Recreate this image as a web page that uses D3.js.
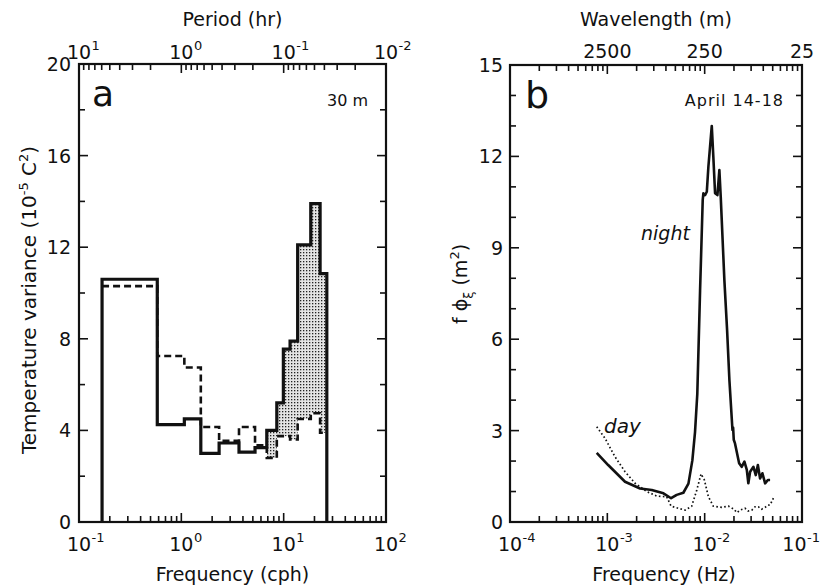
<!DOCTYPE html>
<html>
<head>
<meta charset="utf-8">
<script src="https://cdn.jsdelivr.net/npm/d3@7"></script>
<style>
body { margin: 0; background: #fff; }
svg text { font-family: "DejaVu Sans", sans-serif; fill: #111; }
</style>
</head>
<body>
<svg id="chart" width="822" height="588"></svg>
<script>
// ---- panel a : temperature variance, 30 m (frequency in cph)
var binEdges  = [0.168, 0.582, 1.07, 1.55, 2.34, 3.66, 5.25, 6.84, 8.57, 9.93, 11.55, 13.7, 18.4, 22.7, 26.4];
var solidVar  = [10.6, 4.25, 4.5, 3.0, 3.45, 3.05, 3.25, 4.0, 5.2, 7.55, 7.9, 12.1, 13.9, 10.85];
var dashedVar = [10.3, 7.25, 6.75, 4.15, 3.55, 4.15, 3.35, 2.8, 3.75, 3.75, 3.6, 4.5, 4.75, 3.9];
var shadeFrom = 7;   // first shaded bin
var aYLabels = [0, 4, 8, 12, 16, 20];
var aFreqExp = ["-1", "0", "1", "2"];
var aPeriodExp = ["1", "0", "-1", "-2"];

// ---- panel b : f*phi spectra (frequency in Hz)
var nightFreq = [7.78e-4, 1.02e-3, 1.52e-3, 2.17e-3, 2.86e-3, 3.77e-3, 4.52e-3, 5.16e-3, 6.04e-3, 6.81e-3,
                 7.48e-3, 7.96e-3, 8.4e-3, 8.97e-3, 9.55e-3, 9.70e-3, 1.009e-2, 1.052e-2, 1.092e-2, 1.183e-2,
                 1.227e-2, 1.279e-2, 1.352e-2, 1.416e-2, 1.462e-2, 1.594e-2, 1.70e-2, 1.795e-2, 1.93e-2, 1.96e-2,
                 1.99e-2, 2.05e-2, 2.26e-2, 2.40e-2, 2.56e-2, 2.71e-2, 2.81e-2, 2.93e-2, 3.17e-2, 3.35e-2,
                 3.52e-2, 3.71e-2, 3.92e-2, 4.18e-2, 4.46e-2, 4.70e-2];
var nightPhi  = [2.27, 1.87, 1.32, 1.1, 1.05, 0.94, 0.78, 0.89, 0.96, 1.26,
                 2.03, 2.95, 4.2, 7.6, 10.57, 10.79, 10.73, 10.84, 11.66, 13.0,
                 12.0, 10.79, 10.73, 11.55, 10.68, 7.94, 6.3, 4.66, 3.02, 3.1,
                 2.7, 2.58, 1.93, 1.81, 1.98, 1.71, 1.27, 1.65, 1.81, 1.54,
                 1.87, 1.43, 1.6, 1.27, 1.38, 1.38];
var dayFreq = [7.78e-4, 9.46e-4, 1.20e-3, 1.52e-3, 1.93e-3, 2.54e-3, 3.22e-3, 4.07e-3, 4.52e-3, 5.37e-3,
               6.30e-3, 7.36e-3, 8.30e-3, 9.18e-3, 9.93e-3, 1.092e-2, 1.227e-2, 1.50e-2, 1.754e-2, 2.0e-2,
               2.14e-2, 2.35e-2, 2.60e-2, 2.80e-2, 3.05e-2, 3.30e-2, 3.56e-2, 3.85e-2, 4.18e-2, 4.45e-2,
               4.70e-2, 5.08e-2];
var dayPhi  = [3.13, 2.75, 2.14, 1.65, 1.27, 1.0, 0.85, 0.83, 0.52, 0.45,
               0.39, 0.52, 1.05, 1.58, 1.38, 0.83, 0.52, 0.48, 0.52, 0.42,
               0.31, 0.40, 0.45, 0.36, 0.39, 0.50, 0.50, 0.42, 0.48, 0.55,
               0.56, 0.78];
var bYLabels = [0, 3, 6, 9, 12, 15];
var bFreqExp = ["-4", "-3", "-2", "-1"];
var wavelengthLabels = [2500, 250, 25];

var svg = d3.select("#chart");
var ink = "#111";

var pa = {l: 79, r: 386, t: 64, b: 522};
var pb = {l: 510, r: 802, t: 65, b: 522};

var xa = d3.scaleLog().domain([0.1, 100]).range([pa.l, pa.r]);
var pera = d3.scaleLog().domain([10, 0.01]).range([pa.l, pa.r]);
var ya = d3.scaleLinear().domain([0, 20]).range([pa.b, pa.t]);

var xb = d3.scaleLog().domain([1e-4, 1e-1]).range([pb.l, pb.r]);
var wlb = d3.scaleLog().domain([25000, 25]).range([pb.l, pb.r]);
var yb = d3.scaleLinear().domain([0, 15]).range([pb.b, pb.t]);

function isDecade(v) {
    var l = Math.log10(v);
    return Math.abs(l - Math.round(l)) < 1e-6;
}

function tick(x1, y1, x2, y2) {
    svg.append("line").attr("x1", x1).attr("y1", y1).attr("x2", x2).attr("y2", y2)
        .attr("stroke", ink).attr("stroke-width", 1.6);
}

function logTicks(p, scale, edge) {
    scale.ticks().forEach(function(v) {
        var x = scale(v);
        if (x < p.l + 1 || x > p.r - 1) return;
        var len = isDecade(v) ? 9 : 6;
        if (edge == "bottom") tick(x, p.b, x, p.b - len);
        else tick(x, p.t, x, p.t + len);
    });
}

function yTicks(p, scale, n, every) {
    scale.ticks(n).forEach(function(v) {
        var y = scale(v);
        if (y > p.b - 1 || y < p.t + 1) return;
        var len = (v % every == 0) ? 9 : 6;
        tick(p.l, y, p.l + len, y);
        tick(p.r, y, p.r - len, y);
    });
}

// "10" centred on the tick, exponent hanging to the right
function powLabel(x, y, exp) {
    var t = svg.append("text").attr("x", x).attr("y", y).attr("text-anchor", "middle")
        .style("font-size", "19px").text("10");
    var w = t.node().getComputedTextLength();
    var s = svg.append("text").attr("x", x + w / 2 + 0.5).attr("y", y - 9)
        .style("font-size", "13px").text(exp);
    var over = x + w / 2 + 0.5 + s.node().getComputedTextLength() - 820;
    if (over > 0) {
        t.attr("x", x - over);
        s.attr("x", x + w / 2 + 0.5 - over);
    }
}

function frame(p) {
    svg.append("rect").attr("x", p.l).attr("y", p.t)
        .attr("width", p.r - p.l).attr("height", p.b - p.t)
        .attr("fill", "none").attr("stroke", ink).attr("stroke-width", 2.2);
}

// stipple for the shaded region
var pat = svg.append("defs").append("pattern").attr("id", "stip")
    .attr("patternUnits", "userSpaceOnUse").attr("width", 3).attr("height", 3);
pat.append("rect").attr("width", 3).attr("height", 3).attr("fill", "#e4e4e4");
pat.append("rect").attr("width", 1.3).attr("height", 1.3).attr("fill", "#222");

// ================= panel a =================
var shadePts = [];
for (var i = shadeFrom; i < solidVar.length; i++) {
    shadePts.push({x: binEdges[i], lo: dashedVar[i], hi: solidVar[i]});
}
var last = solidVar.length - 1;
shadePts.push({x: binEdges[last + 1], lo: dashedVar[last], hi: solidVar[last]});

svg.append("path").datum(shadePts)
    .attr("d", d3.area().curve(d3.curveStepAfter)
        .x(function(d) { return xa(d.x); })
        .y0(function(d) { return ya(d.lo); })
        .y1(function(d) { return ya(d.hi); }))
    .attr("fill", "url(#stip)");

// dashed histogram
var dashPts = dashedVar.map(function(v, i) { return [binEdges[i], v]; });
dashPts.push([binEdges[last + 1], dashedVar[last]]);
svg.append("path").datum(dashPts)
    .attr("d", d3.line().curve(d3.curveStepAfter)
        .x(function(d) { return xa(d[0]); })
        .y(function(d) { return ya(d[1]); }))
    .attr("fill", "none").attr("stroke", ink).attr("stroke-width", 2.6)
    .attr("stroke-dasharray", "7,4");

// solid histogram, closed to zero at both ends
var solidPts = [[binEdges[0], 0]];
solidVar.forEach(function(v, i) {
    solidPts.push([binEdges[i], v]);
    solidPts.push([binEdges[i + 1], v]);
});
solidPts.push([binEdges[last + 1], 0]);
svg.append("path").datum(solidPts)
    .attr("d", d3.line()
        .x(function(d) { return xa(d[0]); })
        .y(function(d) { return ya(d[1]); }))
    .attr("fill", "none").attr("stroke", ink).attr("stroke-width", 3.2)
    .attr("stroke-linejoin", "miter");

frame(pa);
logTicks(pa, xa, "bottom");
logTicks(pa, pera, "top");
yTicks(pa, ya, 10, 4);

aYLabels.forEach(function(v) {
    svg.append("text").attr("x", pa.l - 8).attr("y", ya(v) + 7)
        .attr("text-anchor", "end").style("font-size", "19px").text(v);
});
aFreqExp.forEach(function(e) { powLabel(xa(Math.pow(10, +e)), 551, e); });
aPeriodExp.forEach(function(e) { powLabel(pera(Math.pow(10, +e)), 59, e); });

svg.append("text").attr("x", (pa.l + pa.r) / 2).attr("y", 581).attr("text-anchor", "middle")
    .style("font-size", "19px").text("Frequency (cph)");
svg.append("text").attr("x", (pa.l + pa.r) / 2).attr("y", 26).attr("text-anchor", "middle")
    .style("font-size", "19px").text("Period (hr)");

var ta = svg.append("text").attr("transform", "translate(36,300) rotate(-90)")
    .attr("text-anchor", "middle").style("font-size", "20px");
ta.append("tspan").text("Temperature variance (10");
ta.append("tspan").attr("dy", -8).style("font-size", "13px").text("-5");
ta.append("tspan").attr("dy", 8).text(" C");
ta.append("tspan").attr("dy", -8).style("font-size", "13px").text("2");
ta.append("tspan").attr("dy", 8).text(")");

svg.append("text").attr("x", 92).attr("y", 106).style("font-size", "36px").text("a");
svg.append("text").attr("x", 368).attr("y", 106).attr("text-anchor", "end")
    .style("font-size", "16px").text("30 m");

// ================= panel b =================
var lineB = d3.line()
    .x(function(d) { return xb(d[0]); })
    .y(function(d) { return yb(d[1]); });

svg.append("path").datum(dayFreq.map(function(f, i) { return [f, dayPhi[i]]; }))
    .attr("d", lineB).attr("fill", "none").attr("stroke", ink)
    .attr("stroke-width", 1.7).attr("stroke-dasharray", "1.6,2.4");

svg.append("path").datum(nightFreq.map(function(f, i) { return [f, nightPhi[i]]; }))
    .attr("d", lineB).attr("fill", "none").attr("stroke", ink)
    .attr("stroke-width", 2.6).attr("stroke-linejoin", "round");

frame(pb);
logTicks(pb, xb, "bottom");
logTicks(pb, xb, "top");
yTicks(pb, yb, 15, 3);

bYLabels.forEach(function(v) {
    svg.append("text").attr("x", pb.l - 7).attr("y", yb(v) + 7)
        .attr("text-anchor", "end").style("font-size", "19px").text(v);
});
bFreqExp.forEach(function(e) { powLabel(xb(Math.pow(10, +e)), 551, e); });
wavelengthLabels.forEach(function(w) {
    svg.append("text").attr("x", wlb(w)).attr("y", 58).attr("text-anchor", "middle")
        .style("font-size", "19px").text(w);
});

svg.append("text").attr("x", 664).attr("y", 581).attr("text-anchor", "middle")
    .style("font-size", "19px").text("Frequency (Hz)");
svg.append("text").attr("x", 656).attr("y", 26).attr("text-anchor", "middle")
    .style("font-size", "19px").text("Wavelength (m)");

var tb = svg.append("text").attr("transform", "translate(467,284) rotate(-90)")
    .attr("text-anchor", "middle").style("font-size", "19px");
tb.append("tspan").text("f \u03d5");
tb.append("tspan").attr("dy", 6).style("font-size", "13px").text("\u03be");
tb.append("tspan").attr("dy", -6).text(" (m");
tb.append("tspan").attr("dy", -8).style("font-size", "13px").text("2");
tb.append("tspan").attr("dy", 8).text(")");

svg.append("text").attr("x", 525).attr("y", 108).style("font-size", "38px").text("b");
svg.append("text").attr("x", 784).attr("y", 106).attr("text-anchor", "end")
    .style("font-size", "16px").style("letter-spacing", "1px").text("April 14-18");
svg.append("text").attr("x", 641).attr("y", 240).style("font-size", "19px")
    .style("font-style", "italic").text("night");
svg.append("text").attr("x", 604).attr("y", 433).style("font-size", "20px")
    .style("font-style", "italic").text("day");
</script>
</body>
</html>
